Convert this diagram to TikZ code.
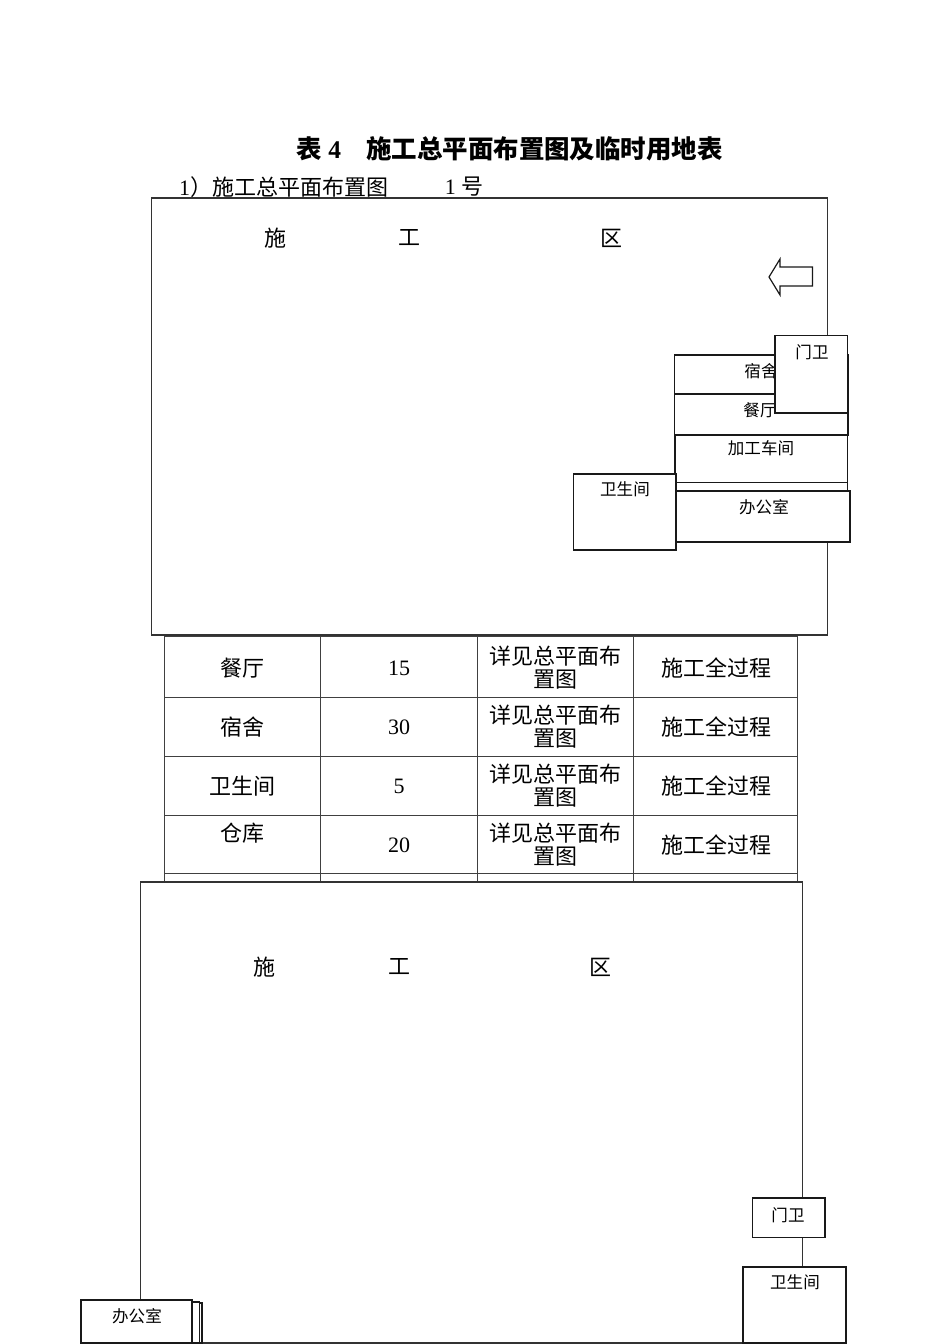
\documentclass[tikz,border=0pt]{standalone}
\usepackage{fontspec}
\setmainfont{Liberation Serif}
\newfontfamily\cjk{Noto Sans CJK SC}

\begin{document}
\begin{tikzpicture}[%
    x=0.75pt, y=-0.75pt,
    sitebox/.style={draw=black!80, fill=white, line width=0.9pt},
    roombox/.style={draw=black!90, fill=white, line width=0.9pt},
    tableline/.style={line width=0.6pt, black!75},
    smalltext/.style={inner sep=0, font=\cjk\fontsize{12.4}{14}\selectfont},
    bigtext/.style={inner sep=0, font=\cjk\fontsize{16.5}{17.25}\selectfont},
    celltext/.style={bigtext, align=center},
    titletext/.style={inner sep=0, font=\cjk\bfseries\fontsize{19.1}{24}\selectfont},
]

\useasboundingbox (0,0) rectangle (950,1344);

\node[titletext] (title) at (319,149) {表\hspace{4.5pt}{\rmfamily 4}};
\node[titletext] (titlemain) at (544.5,149) {施工总平面布置图及临时用地表};
\node[bigtext] (sub) at (283.5,187) {{\rmfamily 1}）施工总平面布置图};
\node[bigtext] (subno) at (464,187) {{\rmfamily 1 }号};

\draw[sitebox] (151.5,198) rectangle (827.5,635);
\node[bigtext] (shi) at (275,238) {施};
\node[bigtext] (gong) at (409,238) {工};
\node[bigtext] (qu) at (611,238) {区};

\draw[roombox, line join=miter] (769,277) -- (780,259) -- (780,267) -- (812.5,267)
    -- (812.5,286) -- (780,286) -- (780,295) -- cycle;

\draw[roombox] (675,482.5) rectangle (847.5,510);
\draw[roombox] (676.5,491) rectangle (850,542);
\node[smalltext] (ban) at (764,507) {办公室};
\draw[roombox] (675,435) rectangle (847.5,482.5);
\node[smalltext] (jia) at (761,448) {加工车间};
\draw[roombox] (674.5,355) rectangle (848.5,394);
\node[smalltext] (su) at (761,371) {宿舍};
\draw[roombox] (674.5,394) rectangle (848,435);
\node[smalltext] (can) at (760,410) {餐厅};
\draw[roombox] (775,335.5) rectangle (847.5,413);
\node[smalltext] (men) at (812,352) {门卫};
\draw[roombox] (573.5,474) rectangle (676,550);
\node[smalltext] (wei) at (625,489) {卫生间};

\foreach \x in {164,320,477,633,797}
    \draw[tableline] (\x,636) -- (\x,882);
\foreach \y in {636,697,756,815,873}
    \draw[tableline] (164,\y) -- (797,\y);

\foreach \nm/\num/\y/\ytext in {餐厅/15/668/668,宿舍/30/727/727,卫生间/5/786/786,仓库/20/845/833}{
    \node[celltext] at (242,\ytext) {\nm};
    \node[inner sep=0, font=\fontsize{16.5}{18}\selectfont] at (399,\y) {\num};
    \node[celltext] at (555.5,\y) {详见总平面布\\置图};
    \node[celltext] at (716,\y) {施工全过程};
}

\draw[sitebox] (140.5,882) rectangle (802.5,1343);
\node[bigtext] (shib) at (264,967) {施};
\node[bigtext] (gongb) at (399,967) {工};
\node[bigtext] (qub) at (600,967) {区};

\draw[roombox] (752.5,1198) rectangle (825,1237.5);
\node[smalltext] (menb) at (788,1215) {门卫};
\draw[roombox] (743,1267) rectangle (846,1343);
\node[smalltext] (weib) at (795,1282) {卫生间};
\draw[roombox] (85,1303) rectangle (202,1343);
\draw[roombox] (83,1302) rectangle (199.5,1343);
\draw[roombox] (81,1300) rectangle (192,1343);
\node[smalltext] (banb) at (137,1316) {办公室};
\end{tikzpicture}
\end{document}
